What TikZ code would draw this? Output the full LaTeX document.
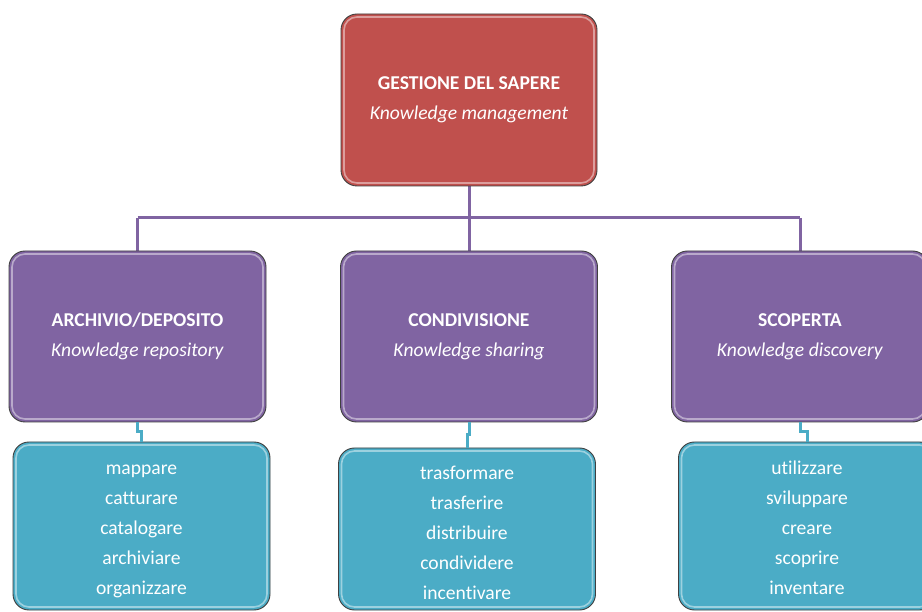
\documentclass[tikz,border=0pt]{standalone}
\usepackage{fontspec}
\setmainfont[Ligatures=NoCommon]{Carlito}
\usetikzlibrary{calc}
\definecolor{kred}{HTML}{C0504D}
\definecolor{kpurple}{HTML}{8064A2}
\definecolor{kblue}{HTML}{4BACC6}
\begin{document}
\begin{tikzpicture}[x=1pt,y=-1pt,
  box/.style={draw=black!75, line width=0.9pt, rounded corners=16pt, text=white,
    align=center, inner sep=0pt, font=\fontsize{19.6}{30}\selectfont,
    path picture={\draw[white, opacity=0.45, line width=1.6pt, rounded corners=13pt]
      ([shift={(3pt,-3pt)}]path picture bounding box.north west) rectangle
      ([shift={(-3pt,3pt)}]path picture bounding box.south east);}},
  redbox/.style={box, fill=kred, minimum width=256pt, minimum height=172pt},
  purplebox/.style={box, fill=kpurple, minimum width=257pt, minimum height=171pt},
  bluebox/.style={box, fill=kblue, minimum width=257pt, minimum height=#1},
  pconn/.style={draw=kpurple, line width=3pt},
  bconn/.style={draw=kblue, line width=3pt}]
\useasboundingbox (0,0) rectangle (922,612);
\clip (0,0) rectangle (922,612);
\fill[white] (0,0) rectangle (922,612);

\coordinate (bus) at (469,218);
\coordinate (busL) at (137.5,218);
\coordinate (busR) at (800,218);
\draw[pconn] (469,186) -- (bus);
\draw[pconn] (busL) -- (busR);
\draw[pconn] (busL) -- (137.5,252);
\draw[pconn] (bus) -- (469,252);
\draw[pconn] (busR) -- (800,252);

\node[redbox] (top) at (469,100) {\textbf{GESTIONE DEL SAPERE}\\\textit{Knowledge management}};

\node[purplebox] (p1) at (137.5,336.5) {\textbf{ARCHIVIO/DEPOSITO}\\\textit{Knowledge repository}};
\node[purplebox] (p2) at (469,336.5) {\textbf{CONDIVISIONE}\\\textit{Knowledge sharing}};
\node[purplebox] (p3) at (800,336.5) {\textbf{SCOPERTA}\\\textit{Knowledge discovery}};

\node[bluebox=168pt] (b1) at (141.5,526) {\rule{0pt}{20pt}mappare\\catturare\\catalogare\\archiviare\\organizzare};
\node[bluebox=162pt] (b2) at (467,529) {\rule{0pt}{22pt}trasformare\\trasferire\\distribuire\\condividere\\incentivare};
\node[bluebox=168pt] (b3) at (807,526) {\rule{0pt}{18pt}utilizzare\\sviluppare\\creare\\scoprire\\inventare};

\draw[bconn] (p1.south) |- ($(p1.south)!0.5!(b1.north)$) -| (b1.north);
\draw[bconn] (p2.south) |- ($(p2.south)!0.5!(b2.north)$) -| (b2.north);
\draw[bconn] (p3.south) |- ($(p3.south)!0.5!(b3.north)$) -| (b3.north);
\end{tikzpicture}
\end{document}
